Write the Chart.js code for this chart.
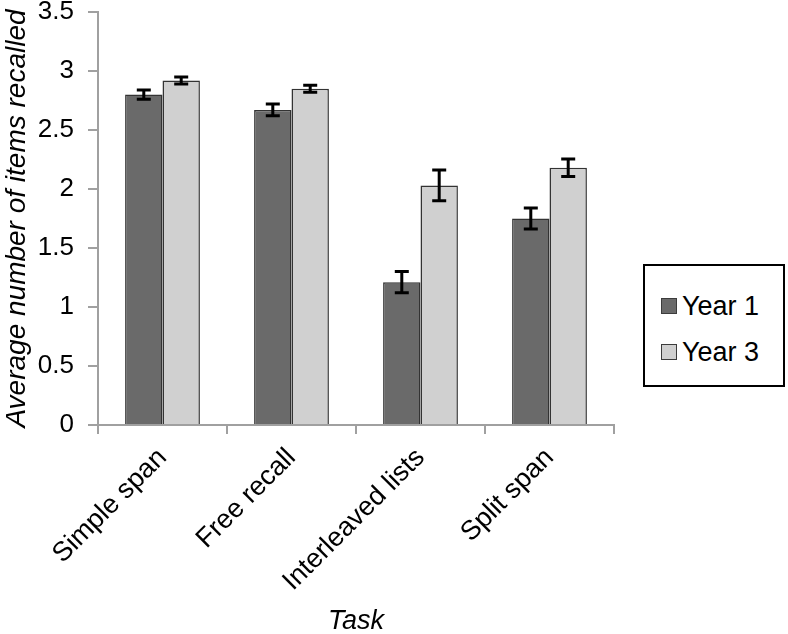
<!DOCTYPE html>
<html>
<head>
<meta charset="utf-8">
<script src="https://cdn.jsdelivr.net/npm/chart.js@4.4.1/dist/chart.umd.min.js"></script>
<style>
  html, body { margin: 0; padding: 0; background: #ffffff; }
  #wrap { position: relative; width: 788px; height: 634px; }
  #legend {
    position: absolute; left: 643px; top: 264px; width: 138px; height: 119px;
    border: 2px solid #000; background: #fff;
    font-family: "Liberation Sans", Arial, sans-serif; font-size: 27px; color: #000;
  }
  .item { position: absolute; left: 16px; height: 30px; line-height: 30px; white-space: nowrap; }
  .sw { display: inline-block; width: 14px; height: 14px; border: 1.5px solid #3c3c3c; vertical-align: middle; margin-right: 5px; position: relative; top: -2px; }
</style>
</head>
<body>
<div id="wrap">
  <canvas id="c" width="788" height="634"></canvas>
  <div id="legend"></div>
</div>
<script>
const categories = ['Simple span', 'Free recall', 'Interleaved lists', 'Split span'];
const seriesNames = ['Year 1', 'Year 3'];
const year1 = [2.80, 2.67, 1.21, 1.75];
const year3 = [2.92, 2.85, 2.03, 2.18];
const year1Err = [0.04, 0.05, 0.09, 0.09];
const year3Err = [0.03, 0.03, 0.13, 0.075];
const yTicks = [0, 0.5, 1, 1.5, 2, 2.5, 3, 3.5];

const fillColors = ['#6a6a6a', '#d0d0d0'];
const edgeColor = '#333333';
const axisColor = '#a0a0a0';
const FONT = '"Liberation Sans", Arial, sans-serif';

const errorBars = {
  id: 'errorBars',
  afterDatasetsDraw(chart) {
    const ctx = chart.ctx;
    const y = chart.scales.y;
    const errs = [year1Err, year3Err];
    ctx.save();
    ctx.strokeStyle = '#000';
    ctx.lineWidth = 3;
    chart.data.datasets.forEach((ds, di) => {
      const meta = chart.getDatasetMeta(di);
      meta.data.forEach((bar, i) => {
        const v = ds.data[i], e = errs[di][i];
        const x = bar.x;
        const yt = y.getPixelForValue(v + e);
        const yb = y.getPixelForValue(v - e);
        const hw = 7;
        ctx.beginPath();
        ctx.moveTo(x, yt); ctx.lineTo(x, yb);
        ctx.moveTo(x - hw, yt); ctx.lineTo(x + hw, yt);
        ctx.moveTo(x - hw, yb); ctx.lineTo(x + hw, yb);
        ctx.stroke();
      });
    });
    ctx.restore();
  }
};

new Chart(document.getElementById('c'), {
  type: 'bar',
  data: {
    labels: categories,
    datasets: [
      { label: seriesNames[0], data: year1, backgroundColor: fillColors[0], borderColor: edgeColor, borderWidth: 1.5, categoryPercentage: 0.58, barPercentage: 1.0 },
      { label: seriesNames[1], data: year3, backgroundColor: fillColors[1], borderColor: edgeColor, borderWidth: 1.5, categoryPercentage: 0.58, barPercentage: 1.0 }
    ]
  },
  options: {
    responsive: false,
    animation: false,
    layout: { padding: { top: 12, right: 174, left: 0, bottom: 0 } },
    plugins: { legend: { display: false }, tooltip: { enabled: false } },
    scales: {
      x: {
        grid: { drawOnChartArea: false, color: axisColor, lineWidth: 2, tickLength: 9, offset: true },
        border: { color: axisColor, width: 2 },
        ticks: { color: '#000', font: { family: FONT, size: 27 }, maxRotation: 45, minRotation: 45, padding: 8 },
        title: { display: true, text: 'Task', color: '#000', font: { family: FONT, size: 27, style: 'italic' }, padding: { top: 0, bottom: -4 } },
        afterFit(s) { s.height = 209; s.paddingTop = 0; }
      },
      y: {
        min: 0, max: 3.5,
        afterBuildTicks(s) { s.ticks = yTicks.map(v => ({ value: v })); },
        grid: { drawOnChartArea: false, color: axisColor, lineWidth: 2, tickLength: 10 },
        border: { color: axisColor, width: 2 },
        ticks: { color: '#000', font: { family: FONT, size: 26 }, padding: 14, callback: v => String(v) },
        title: { display: true, text: 'Average number of items recalled', color: '#000', font: { family: FONT, size: 28, style: 'italic' }, padding: { top: 0, bottom: 0 } },
        afterFit(s) { s.width = 98; s.paddingTop = 0; s.paddingBottom = 0; }
      }
    }
  },
  plugins: [errorBars]
});

const leg = document.getElementById('legend');
seriesNames.forEach((n, i) => {
  const d = document.createElement('div');
  d.className = 'item';
  d.style.top = (25 + i * 46) + 'px';
  d.innerHTML = '<span class="sw" style="background:' + fillColors[i] + '"></span>' + n;
  leg.appendChild(d);
});
</script>
</body>
</html>
